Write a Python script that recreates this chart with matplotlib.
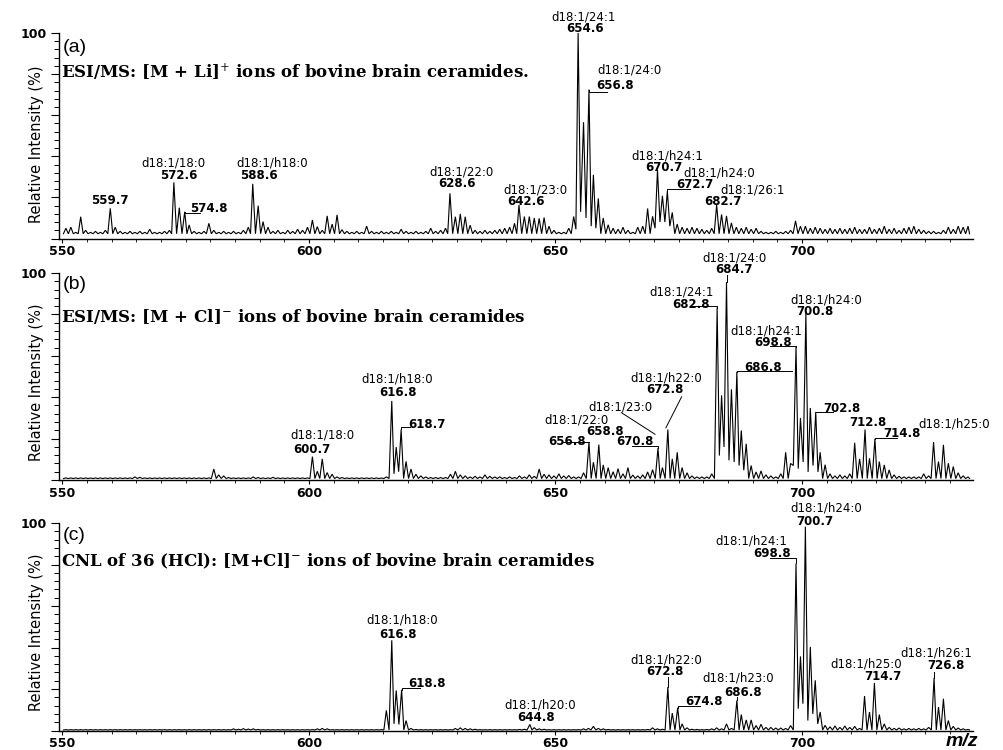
import numpy as np
import matplotlib
matplotlib.use("Agg")
import matplotlib.pyplot as plt
from matplotlib.ticker import MultipleLocator

plt.rcParams["font.family"] = ["DejaVu Sans"]
plt.rcParams["mathtext.fontset"] = "dejavuserif"

# ---------------------------------------------------------------- data
# isotope channels of the profile, one per nominal m/z unit
mz_channels = np.arange(550.7, 734.0, 1.0)

# (a) ESI/MS [M + Li]+ , relative intensity (%) per channel, 550.7 ... 733.7
int_a = [
    5, 5.5, 3, 10.6, 4, 3, 3.5, 3, 4, 14.7,
    5.5, 3.5, 3, 3.5, 3, 3.5, 3, 4.5, 3, 3,
    3.5, 4, 27.3, 15, 13, 6.6, 3.5, 3, 3.5, 7.4,
    4, 3, 3.5, 3, 3.5, 3, 4, 5.5, 26.6, 16,
    8.2, 5.5, 3.5, 4, 3, 4, 3.5, 4.5, 4, 5.5,
    9, 5.8, 4, 11, 7, 11.5, 4.3, 3.5, 3, 3.5,
    3, 6, 3.5, 3, 3.5, 3, 3.5, 3, 4.5, 3.5,
    3, 3.5, 3, 3.5, 5, 3.5, 4, 5, 22, 10.6,
    12, 10.6, 6.5, 4, 3.5, 4, 3.5, 4, 4.5, 5,
    5.5, 7.4, 16.3, 10.7, 10.7, 10, 9.8, 10.2, 6, 4,
    3, 3, 5, 10.7, 100, 56.6, 72.5, 31, 19.5, 10,
    6.7, 5, 4.5, 5.5, 4, 3, 5.5, 6, 14.6, 10.8,
    33.5, 20.8, 23, 12.7, 7, 5.5, 5, 5.5, 5, 4.5,
    4, 5, 16.4, 11.7, 11, 7.6, 5.5, 5, 5.5, 4.5,
    5, 3.5, 3, 3, 3.5, 3, 3.5, 4, 8.6, 6,
    6, 5, 5.5, 5, 4.5, 5, 4.5, 5, 4.5, 5,
    5.5, 4.5, 4.5, 5.5, 4.5, 5, 6, 4.5, 5, 4,
    5, 5.5, 6, 4.5, 4, 3.5, 3.5, 3, 4, 5.5,
    4.5, 6, 5.5, 6,
]
floor_a = 2.3
dips_a = [(654.15, 4.5), (655.1, 13), (656.2, 10), (657.25, 6), (658.2, 5),
          (670.2, 5), (671.2, 8), (672.2, 8), (673.2, 6)]

# (b) ESI/MS [M + Cl]-
int_b = [
    1, 1, 1, 1, 1, 1, 1, 1, 1, 1,
    1, 1, 1, 1, 1.5, 1.3, 1, 1, 1, 1,
    1, 1, 1, 1, 1, 1, 1, 1, 1, 1,
    5.3, 2.5, 2, 1.2, 1, 1, 1, 1, 1.5, 1.2,
    1, 1, 1.3, 1, 1, 1, 1, 1, 1, 1,
    11.3, 4.2, 10.2, 3.6, 2.8, 1.5, 1.2, 1, 1, 1,
    1, 1, 1, 1, 1, 1.5, 38.2, 15.9, 24.4, 9,
    5.3, 2.8, 2, 1.5, 1.2, 1.2, 1.2, 1.2, 2.8, 4.2,
    2.5, 2, 1.5, 1.8, 1.5, 2.5, 1.8, 1.5, 1.5, 1.2,
    1.5, 1.2, 2, 1.5, 2.5, 1.8, 5.3, 2.8, 2.5, 2,
    3, 2, 2.2, 1.5, 1.5, 3.5, 18.3, 8.6, 17.1, 7.3,
    6, 4, 5.5, 3, 6, 2.4, 2, 2.5, 3.9, 5,
    15.4, 6, 24.4, 10.2, 13.4, 6, 3.5, 2, 1.5, 1.5,
    1.5, 3, 83.3, 40.9, 95.6, 43.8, 52.3, 23.9, 17.5, 7,
    3.9, 4.4, 2.5, 2, 1.5, 3, 13.4, 8, 64.4, 30,
    80.6, 34.8, 32.9, 13.4, 7.4, 3, 2, 2.5, 2, 3,
    18, 10.2, 24.4, 10.5, 19.9, 8.9, 7.3, 4.9, 2.5, 1.8,
    1.5, 1.5, 1.5, 1.5, 3, 2, 18.3, 8.9, 17, 8.1,
    6.5, 3.5, 2, 1.5,
]
floor_b = 0.7
dips_b = [(617.25, 3), (618.2, 4),
          (683.25, 11.8), (684.2, 16), (685.2, 9.5), (686.25, 8.7),
          (687.25, 7), (688.2, 4.7), (698.25, 7), (699.25, 5.5),
          (700.25, 8.7), (701.25, 3.9), (702.25, 7), (703.25, 3.9)]

# (c) constant neutral loss of 36 (HCl)
int_c = [
    0.4, 0.4, 0.4, 0.4, 0.4, 0.4, 0.4, 0.4, 0.4, 0.4,
    0.4, 0.4, 0.4, 0.4, 0.4, 0.4, 0.4, 0.4, 0.4, 0.4,
    0.4, 0.4, 0.4, 0.4, 0.4, 0.4, 0.4, 0.4, 0.4, 0.4,
    0.4, 0.4, 0.4, 0.4, 0.8, 0.6, 0.9, 0.7, 0.8, 0.5,
    0.4, 0.4, 0.4, 0.4, 0.4, 0.4, 0.4, 0.4, 0.4, 0.4,
    0.4, 0.8, 1.0, 0.8, 0.4, 0.4, 0.4, 0.4, 0.4, 0.4,
    0.4, 0.4, 0.4, 0.4, 0.4, 9.7, 43.5, 19.3, 19.6, 4.8,
    1, 0.5, 0.4, 0.4, 0.4, 0.4, 0.4, 0.4, 0.4, 1.0,
    1.3, 1.0, 0.8, 0.6, 0.4, 0.4, 0.4, 0.4, 0.4, 0.4,
    0.4, 0.4, 0.5, 0.6, 2.9, 1.4, 0.8, 0.6, 0.4, 0.4,
    0.4, 0.4, 0.4, 0.4, 0.4, 0.8, 1.0, 2.0, 1.0, 0.8,
    0.5, 0.4, 0.4, 0.4, 0.4, 0.4, 0.4, 0.4, 0.5, 1.3,
    0.8, 0.6, 20.9, 8.4, 11, 3.2, 1.3, 0.6, 0.5, 0.4,
    0.5, 0.8, 1.3, 0.8, 3.2, 1.0, 14.5, 7.7, 5.1, 5.1,
    2.4, 3, 1.5, 1.5, 1.2, 1.2, 1.0, 2.4, 80.5, 35.7,
    98.2, 40.3, 24.2, 8.9, 2.5, 1.8, 2.2, 1.5, 2.2, 1.5,
    2, 1.0, 16.6, 8.9, 22.9, 7.7, 3.2, 1.5, 1.0, 1.2,
    0.8, 1.0, 0.8, 1.0, 0.8, 1.5, 25.3, 11.3, 15.3, 4.8,
    2, 1.2, 0.8, 0.5,
]
floor_c = 0.25
dips_c = [(617.25, 3.2), (618.25, 2.9), (699.25, 10.5), (700.2, 12.9),
          (701.2, 4.8), (702.2, 8), (703.2, 3.2)]

# labelled m/z values and species assignments
peaks_a = [559.7, 572.6, 574.8, 588.6, 628.6, 642.6, 654.6, 656.8, 670.7, 672.7, 682.7]
names_a = ["d18:1/18:0", "d18:1/h18:0", "d18:1/22:0", "d18:1/23:0", "d18:1/24:1",
           "d18:1/24:0", "d18:1/h24:1", "d18:1/h24:0", "d18:1/26:1"]

peaks_b = [600.7, 616.8, 618.7, 656.8, 658.8, 670.8, 672.8, 682.8, 684.7, 686.8,
           698.8, 700.8, 702.8, 712.8, 714.8]
names_b = ["d18:1/18:0", "d18:1/h18:0", "d18:1/22:0", "d18:1/23:0", "d18:1/h22:0",
           "d18:1/24:1", "d18:1/24:0", "d18:1/h24:1", "d18:1/h24:0", "d18:1/h25:0"]

peaks_c = [616.8, 618.8, 644.8, 672.8, 674.8, 686.8, 698.8, 700.7, 714.7, 726.8]
names_c = ["d18:1/h18:0", "d18:1/h20:0", "d18:1/h22:0", "d18:1/h23:0", "d18:1/h24:1",
           "d18:1/h24:0", "d18:1/h25:0", "d18:1/h26:1"]

# ---------------------------------------------------------------- layout
num_pos_a = [(559.66, 18.3), (573.65, 30.5), (579.7, 14.4), (589.9, 30.5), (630.0, 26.6),
             (644.0, 17.8), (656.0, 102.3), (662.1, 74.4), (672.0, 34.6), (678.3, 26.3),
             (683.9, 18.0)]
name_pos_a = [(572.6, 36.8), (592.5, 36.8), (631.0, 32.3), (645.9, 23.6), (655.7, 108.0),
              (665.1, 82.0), (672.6, 40.3), (683.2, 31.7), (690.0, 23.7)]
leaders_a = [(574.8, 12.5, 577.9), (656.8, 71.1, 660.5), (672.7, 24.1, 677.3)]
pointers_a = []

num_pos_b = [(600.57, 14.5), (618.07, 42.5), (623.96, 26.8), (652.29, 18.8), (660.06, 23.2),
             (666.15, 18.8), (672.23, 43.5), (677.5, 85.0), (686.2, 101.5), (692.1, 54.3),
             (694.1, 66.2), (702.66, 81.2), (708.1, 34.5), (713.4, 28.0), (720.2, 22.4)]
name_pos_b = [(602.66, 21.5), (617.97, 49.0), (654.32, 28.8), (663.27, 35.4), (672.39, 49.3),
              (675.68, 90.8), (686.4, 107.3), (692.7, 71.9), (705.0, 86.8), (730.8, 27.0)]
leaders_b = [(618.7, 25.5, 620.5), (656.8, 18.3, 651.5), (670.8, 16.4, 665.5),
             (682.8, 84.0, 677.3), (684.7, 99.0, 684.7), (686.8, 52.5, 697.9),
             (698.8, 64.5, 693.5), (702.8, 33.0, 706.3), (714.8, 20.1, 719.2)]
pointers_b = [((663.4, 32.5), (670.2, 22.1)), ((675.6, 40.2), (672.4, 25.2))]

num_pos_c = [(618.07, 46.3), (623.96, 22.7), (646.02, 6.5), (672.23, 28.3), (680.1, 14.1),
             (688.1, 18.2), (694.0, 85.1), (702.66, 100.8), (716.5, 26.1), (729.2, 31.3)]
name_pos_c = [(618.99, 53.2), (646.88, 12.3), (672.57, 34.2), (687.1, 25.3), (689.8, 91.2),
              (705.0, 107.0), (713.0, 32.0), (727.3, 37.3)]
leaders_c = [(618.8, 20.3, 622.6), (674.8, 11.8, 679.3), (698.8, 83.0, 693.5),
             (726.8, 28.0, 726.8), (672.8, 26.0, 672.8), (686.8, 16.0, 686.8)]
pointers_c = []

W, H = 1004, 750
PANELS = [
    dict(top=33, bottom=238.5, letter="(a)",
         title="ESI/MS: [M + Li]$^{+}$ ions of bovine brain ceramides.",
         letter_y=48, title_y=72, ylabel_y=144,
         values=int_a, floor=floor_a, dips=dips_a, peaks=peaks_a, names=names_a,
         num_pos=num_pos_a, name_pos=name_pos_a, leaders=leaders_a, pointers=pointers_a),
    dict(top=273, bottom=480, letter="(b)",
         title="ESI/MS: [M + Cl]$^{-}$ ions of bovine brain ceramides",
         letter_y=284.5, title_y=316, ylabel_y=382,
         values=int_b, floor=floor_b, dips=dips_b, peaks=peaks_b, names=names_b,
         num_pos=num_pos_b, name_pos=name_pos_b, leaders=leaders_b, pointers=pointers_b),
    dict(top=523, bottom=730.5, letter="(c)",
         title="CNL of 36 (HCl): [M+Cl]$^{-}$ ions of bovine brain ceramides",
         letter_y=535, title_y=561, ylabel_y=632,
         values=int_c, floor=floor_c, dips=dips_c, peaks=peaks_c, names=names_c,
         num_pos=num_pos_c, name_pos=name_pos_c, leaders=leaders_c, pointers=pointers_c),
]

X0, X1 = 59, 973
XLIM = (549.3, 734.7)


def profile(values, floor, peaks, dips):
    """Connect channel apices through valleys; labelled peaks sit at their stated m/z."""
    pos = mz_channels.copy()
    for p in peaks:
        pos[np.argmin(np.abs(pos - p))] = p
    xs, ys = [550.2], [floor]
    for i in range(len(pos)):
        xs.append(pos[i])
        ys.append(values[i])
        if i < len(pos) - 1:
            inside = [d for d in dips if pos[i] < d[0] < pos[i + 1]]
            if inside:
                xs.append(inside[0][0])
                ys.append(inside[0][1])
            else:
                xs.append(0.5 * (pos[i] + pos[i + 1]))
                ys.append(floor)
    xs.append(734.0)
    ys.append(floor)
    return np.array(xs), np.array(ys), pos


fig = plt.figure(figsize=(W / 100, H / 100), dpi=100)

tick_font = dict(family="DejaVu Sans", weight="bold", size=9)
name_font = dict(family="DejaVu Sans", size=8.5)
num_font = dict(family="DejaVu Sans", weight="bold", size=8.5)

for pn in PANELS:
    ax = fig.add_axes([X0 / W, 1 - pn["bottom"] / H, (X1 - X0) / W,
                       (pn["bottom"] - pn["top"]) / H])
    ax.set_xlim(*XLIM)
    ax.set_ylim(0, 100)
    for s in ("top", "right"):
        ax.spines[s].set_visible(False)
    for s in ("left", "bottom"):
        ax.spines[s].set_linewidth(1.0)

    xs, ys, pos = profile(pn["values"], pn["floor"], pn["peaks"], pn["dips"])
    ax.plot(xs, ys, color="black", lw=0.8, clip_on=False, solid_joinstyle="miter")

    # y axis: only the top value is labelled
    ax.set_yticks([0, 20, 40, 60, 80, 100], labels=["", "", "", "", "", "100"])
    ax.yaxis.set_minor_locator(MultipleLocator(4))
    ax.tick_params(axis="y", which="major", direction="out", length=6, width=0.8, pad=3)
    ax.tick_params(axis="y", which="minor", direction="out", length=3.5, width=0.7)
    ax.set_xticks([550, 600, 650, 700])
    ax.xaxis.set_minor_locator(MultipleLocator(5))
    ax.tick_params(axis="x", which="major", direction="out", length=3, width=0.8, pad=2)
    ax.tick_params(axis="x", which="minor", direction="out", length=2, width=0.6)
    for lab in ax.get_xticklabels() + ax.get_yticklabels():
        lab.set_fontfamily(tick_font["family"])
        lab.set_fontweight(tick_font["weight"])
        lab.set_fontsize(tick_font["size"])

    # peak labels
    for mz, (x, y) in zip(pn["peaks"], pn["num_pos"]):
        ax.text(x, y, f"{mz:.1f}", ha="center", va="center", clip_on=False, **num_font)
    for nm, (x, y) in zip(pn["names"], pn["name_pos"]):
        ax.text(x, y, nm, ha="center", va="center", clip_on=False, **name_font)

    # leader lines: up from the apex, then along the label
    vals = np.asarray(pn["values"])
    for mz, level, x_end in pn["leaders"]:
        h = vals[np.argmin(np.abs(pos - mz))]
        ax.plot([mz, mz, x_end], [h, level, level], color="black", lw=0.7, clip_on=False)
    for (xa, ya), (xb, yb) in pn["pointers"]:
        ax.plot([xa, xb], [ya, yb], color="black", lw=0.7, clip_on=False)

    fig.text(63 / W, 1 - pn["letter_y"] / H, pn["letter"], ha="left", va="center",
             family="Liberation Sans", size=14)
    fig.text(61 / W, 1 - pn["title_y"] / H, pn["title"], ha="left", va="center",
             family="DejaVu Serif", weight="bold", size=12)
    fig.text(37 / W, 1 - pn["ylabel_y"] / H, "Relative Intensity (%)", rotation=90,
             ha="center", va="center", family="DejaVu Sans", size=10.5)

fig.text(962 / W, 1 - 742 / H, "m/z", ha="center", va="center",
         family="Liberation Sans", style="italic", weight="bold", size=14)

fig.savefig("out.png", dpi=100)
